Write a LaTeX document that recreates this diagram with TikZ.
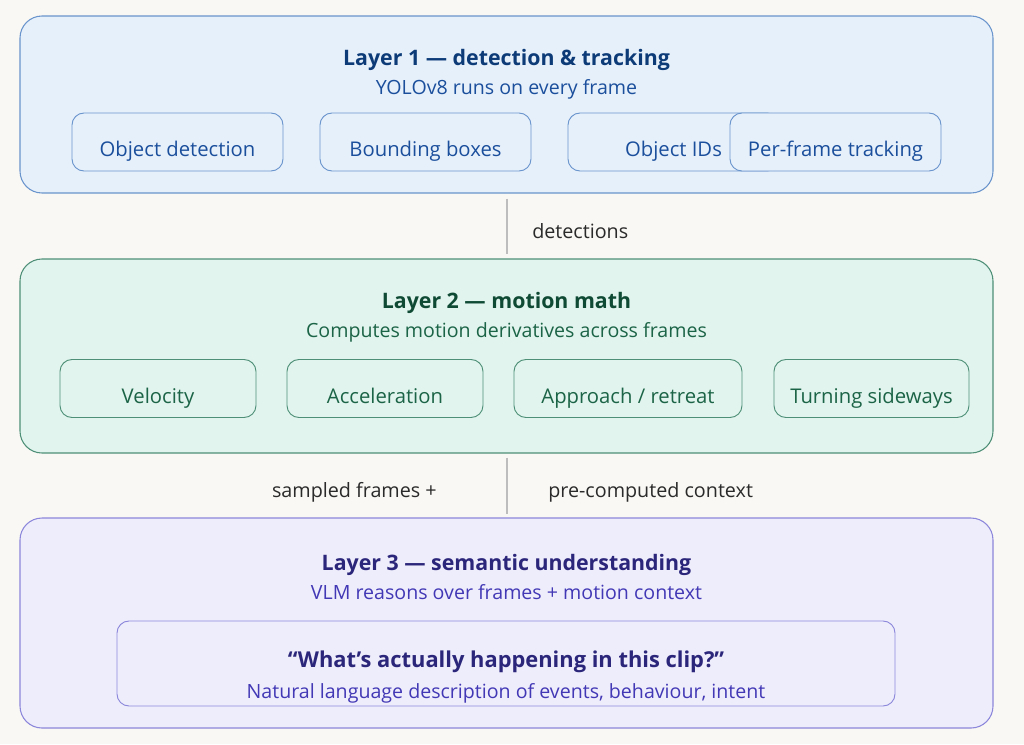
\documentclass[tikz,border=0pt]{standalone}
\usepackage{fontspec}
\setmainfont{Open Sans}
\usetikzlibrary{positioning}

\definecolor{paper}{HTML}{F9F8F4}
\definecolor{bluefill}{HTML}{E6F0FB}
\definecolor{blueline}{HTML}{6A94CC}
\definecolor{bluedark}{HTML}{0C3B78}
\definecolor{bluetext}{HTML}{1B4F9C}
\definecolor{greenfill}{HTML}{E1F4EE}
\definecolor{greenline}{HTML}{4E8F77}
\definecolor{greendark}{HTML}{0F4A34}
\definecolor{greentext}{HTML}{1C6447}
\definecolor{violetfill}{HTML}{EEEDFC}
\definecolor{violetline}{HTML}{8C87DA}
\definecolor{violetdark}{HTML}{2B267A}
\definecolor{violettext}{HTML}{4238B5}
\definecolor{linkgrey}{HTML}{BDBDBD}
\definecolor{linktext}{HTML}{2A2A2A}

\newcommand{\pxu}{0.75pt}

\tikzset{
	layerbox/.style={draw, rounded corners=16.5pt, line width=0.8pt, minimum width=973*\pxu},
	itembox/.style={draw, rounded corners=9pt, line width=0.7pt, minimum height=58*\pxu},
	layertitle/.style={anchor=base, font=\fontsize{16}{19}\selectfont\bfseries},
	layersub/.style={anchor=base, font=\fontsize{14.7}{17}\selectfont},
	itemlabel/.style={anchor=base, font=\fontsize{15.2}{18}\selectfont},
	link/.style={draw=linkgrey, line width=1.5pt},
	linklabel/.style={inner sep=0pt, font=\fontsize{14.8}{18}\selectfont, text=linktext}
}

\begin{document}
\begin{tikzpicture}[x=\pxu, y=-\pxu]
	\fill[paper] (0,0) rectangle (1024,744);
	\useasboundingbox (0,0) rectangle (1024,744);

	% layer 1
	\node[layerbox, fill=bluefill, draw=blueline, minimum height=177*\pxu] (l1) at (506.5,104.5) {};
	\node[layertitle, text=bluedark] (l1title) at (506.5,65) {Layer 1 — detection \& tracking};
	\node[layersub, text=bluetext] (l1sub) at (506.5,94) {YOLOv8 runs on every frame};
	\foreach \x/\name/\txt in {177.5/det/Object detection, 425.5/bbox/Bounding boxes, 673.5/ids/Object IDs, 835.5/track/Per-frame tracking}
	{
		\node[itembox, fill=bluefill, draw=blueline, minimum width=211*\pxu] (\name) at (\x,142) {};
		\node[itemlabel, text=bluetext] (\name label) at ([yshift=-14.5*\pxu]\name.center) {\txt};
	}

	% layer 2
	\node[layerbox, fill=greenfill, draw=greenline, minimum height=194*\pxu] (l2) at (506.5,356) {};
	\node[layertitle, text=greendark] (l2title) at (506.5,308) {Layer 2 — motion math};
	\node[layersub, text=greentext] (l2sub) at (506.5,337) {Computes motion derivatives across frames};
	\foreach \x/\w/\name/\txt in {158/196/vel/Velocity, 385/196/acc/Acceleration, 628/228/appr/{Approach / retreat}, 871.5/195/turn/Turning sideways}
	{
		\node[itembox, fill=greenfill, draw=greenline, minimum width=\w*\pxu] (\name) at (\x,388.5) {};
		\node[itemlabel, text=greentext] (\name label) at ([yshift=-14.5*\pxu]\name.center) {\txt};
	}

	% layer 3
	\node[layerbox, fill=violetfill, draw=violetline, minimum height=210*\pxu] (l3) at (506.5,623) {};
	\node[layertitle, text=violetdark] (l3title) at (506.5,570) {Layer 3 — semantic understanding};
	\node[layersub, text=violettext] (l3sub) at (506.5,599) {VLM reasons over frames + motion context};
	\node[itembox, fill=violetfill, draw=violetline, minimum width=778*\pxu, minimum height=85*\pxu] (ask) at (506,663.5) {};
	\node[layertitle, text=violetdark, font=\fontsize{16.4}{19}\selectfont\bfseries] (asktitle) at (506,667) {“What’s actually happening in this clip?”};
	\node[layersub, text=violettext] (asksub) at (506,698) {Natural language description of events, behaviour, intent};

	% links
	\draw[link] ([yshift=-5*\pxu]l1.south) -- ([yshift=4*\pxu]l2.north);
	\node[linklabel, anchor=base west] (detlabel) at (532,238) {detections};
	\draw[link] ([yshift=-4*\pxu]l2.south) -- ([yshift=3*\pxu]l3.north);
	\node[linklabel, anchor=base east] (framelabel) at (437,497) {sampled frames +};
	\node[linklabel, anchor=base west] (ctxlabel) at (548,497) {pre-computed context};
\end{tikzpicture}
\end{document}
